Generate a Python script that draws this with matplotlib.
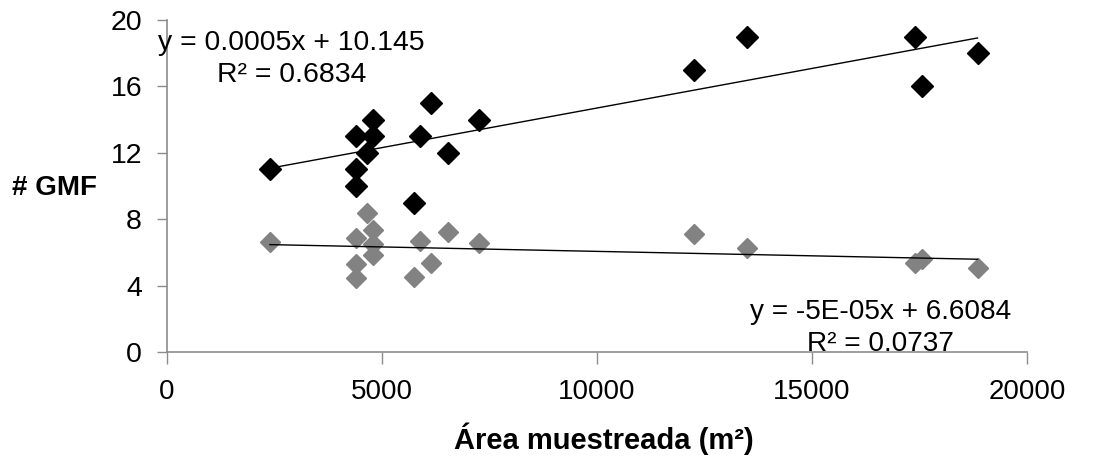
import numpy as np
import matplotlib
matplotlib.use("Agg")
import matplotlib.pyplot as plt

# Data
area_black = [2400, 4400, 4400, 4400, 4800, 4800, 4650, 5900, 6150, 5750, 6550, 7250,
              12250, 13500, 17400, 17550, 18850]
gmf_black = [11, 13, 11, 10, 14, 13, 12, 13, 15, 9, 12, 14, 17, 19, 19, 16, 18]

area_gray = [2400, 4400, 4400, 4400, 4650, 4800, 4800, 4800, 5900, 6150, 5750, 6550, 7250,
             12250, 13500, 17400, 17550, 18850]
gmf_gray = [6.6, 6.85, 5.3, 4.45, 8.4, 7.35, 6.5, 5.85, 6.7, 5.35, 4.5, 7.2, 6.55,
            7.1, 6.25, 5.35, 5.6, 5.05]

eq_black = "y = 0.0005x + 10.145\nR² = 0.6834"
eq_gray = "y = -5E-05x + 6.6084\nR² = 0.0737"

xticks = [0, 5000, 10000, 15000, 20000]
yticks = [0, 4, 8, 12, 16, 20]

plt.rcParams['font.family'] = ['Liberation Sans', 'DejaVu Sans']

fig = plt.figure(figsize=(10.93, 4.59), dpi=100)
ax = fig.add_axes([0.1525, 0.2331, 0.7871, 0.7233])

ax.plot(area_black, gmf_black, linestyle='none', marker='D', ms=10.8,
        color='black', zorder=3)
ax.plot(area_gray, gmf_gray, linestyle='none', marker='D', ms=10.5,
        color='#828282', mec='#828282', zorder=3)

for xs, ys in ((area_black, gmf_black), (area_gray, gmf_gray)):
    xs = np.asarray(xs, float)
    ys = np.asarray(ys, float)
    m, b = np.polyfit(xs, ys, 1)
    xl = np.array([xs.min(), xs.max()])
    ax.plot(xl, m * xl + b, color='black', lw=1.0, zorder=4)

ax.set_xlim(0, 20000)
ax.set_ylim(0, 20)
ax.set_xticks(xticks)
ax.set_yticks(yticks)
ax.tick_params(axis='x', direction='out', length=8.3, width=1, color='#8c8c8c',
               labelsize=20, pad=11)
ax.tick_params(axis='y', direction='out', length=7.2, width=1, color='#8c8c8c',
               labelsize=20.5, pad=10.5)
for s in ('top', 'right'):
    ax.spines[s].set_visible(False)
for s in ('left', 'bottom'):
    ax.spines[s].set_color('#8c8c8c')
    ax.spines[s].set_linewidth(1.2)

ax.set_xlabel('Área muestreada (m²)', fontsize=21, fontweight='bold')
ax.xaxis.set_label_coords(0.508, -0.26)
ax.xaxis.label.set_va('center')
ax.set_ylabel('# GMF', fontsize=20, fontweight='bold', rotation=0)
ax.yaxis.set_label_coords(-0.130, 0.494)
ax.yaxis.label.set_va('center')
ax.yaxis.label.set_ha('center')

ax.text(2900, 17.64, eq_black, fontsize=20.4, ha='center', va='center',
        multialignment='center', linespacing=1.3, zorder=5)
ax.text(16592, 1.46, eq_gray, fontsize=20.2, ha='center', va='center',
        multialignment='center', linespacing=1.3, zorder=5, clip_on=False)

fig.savefig('out.png', dpi=100)
